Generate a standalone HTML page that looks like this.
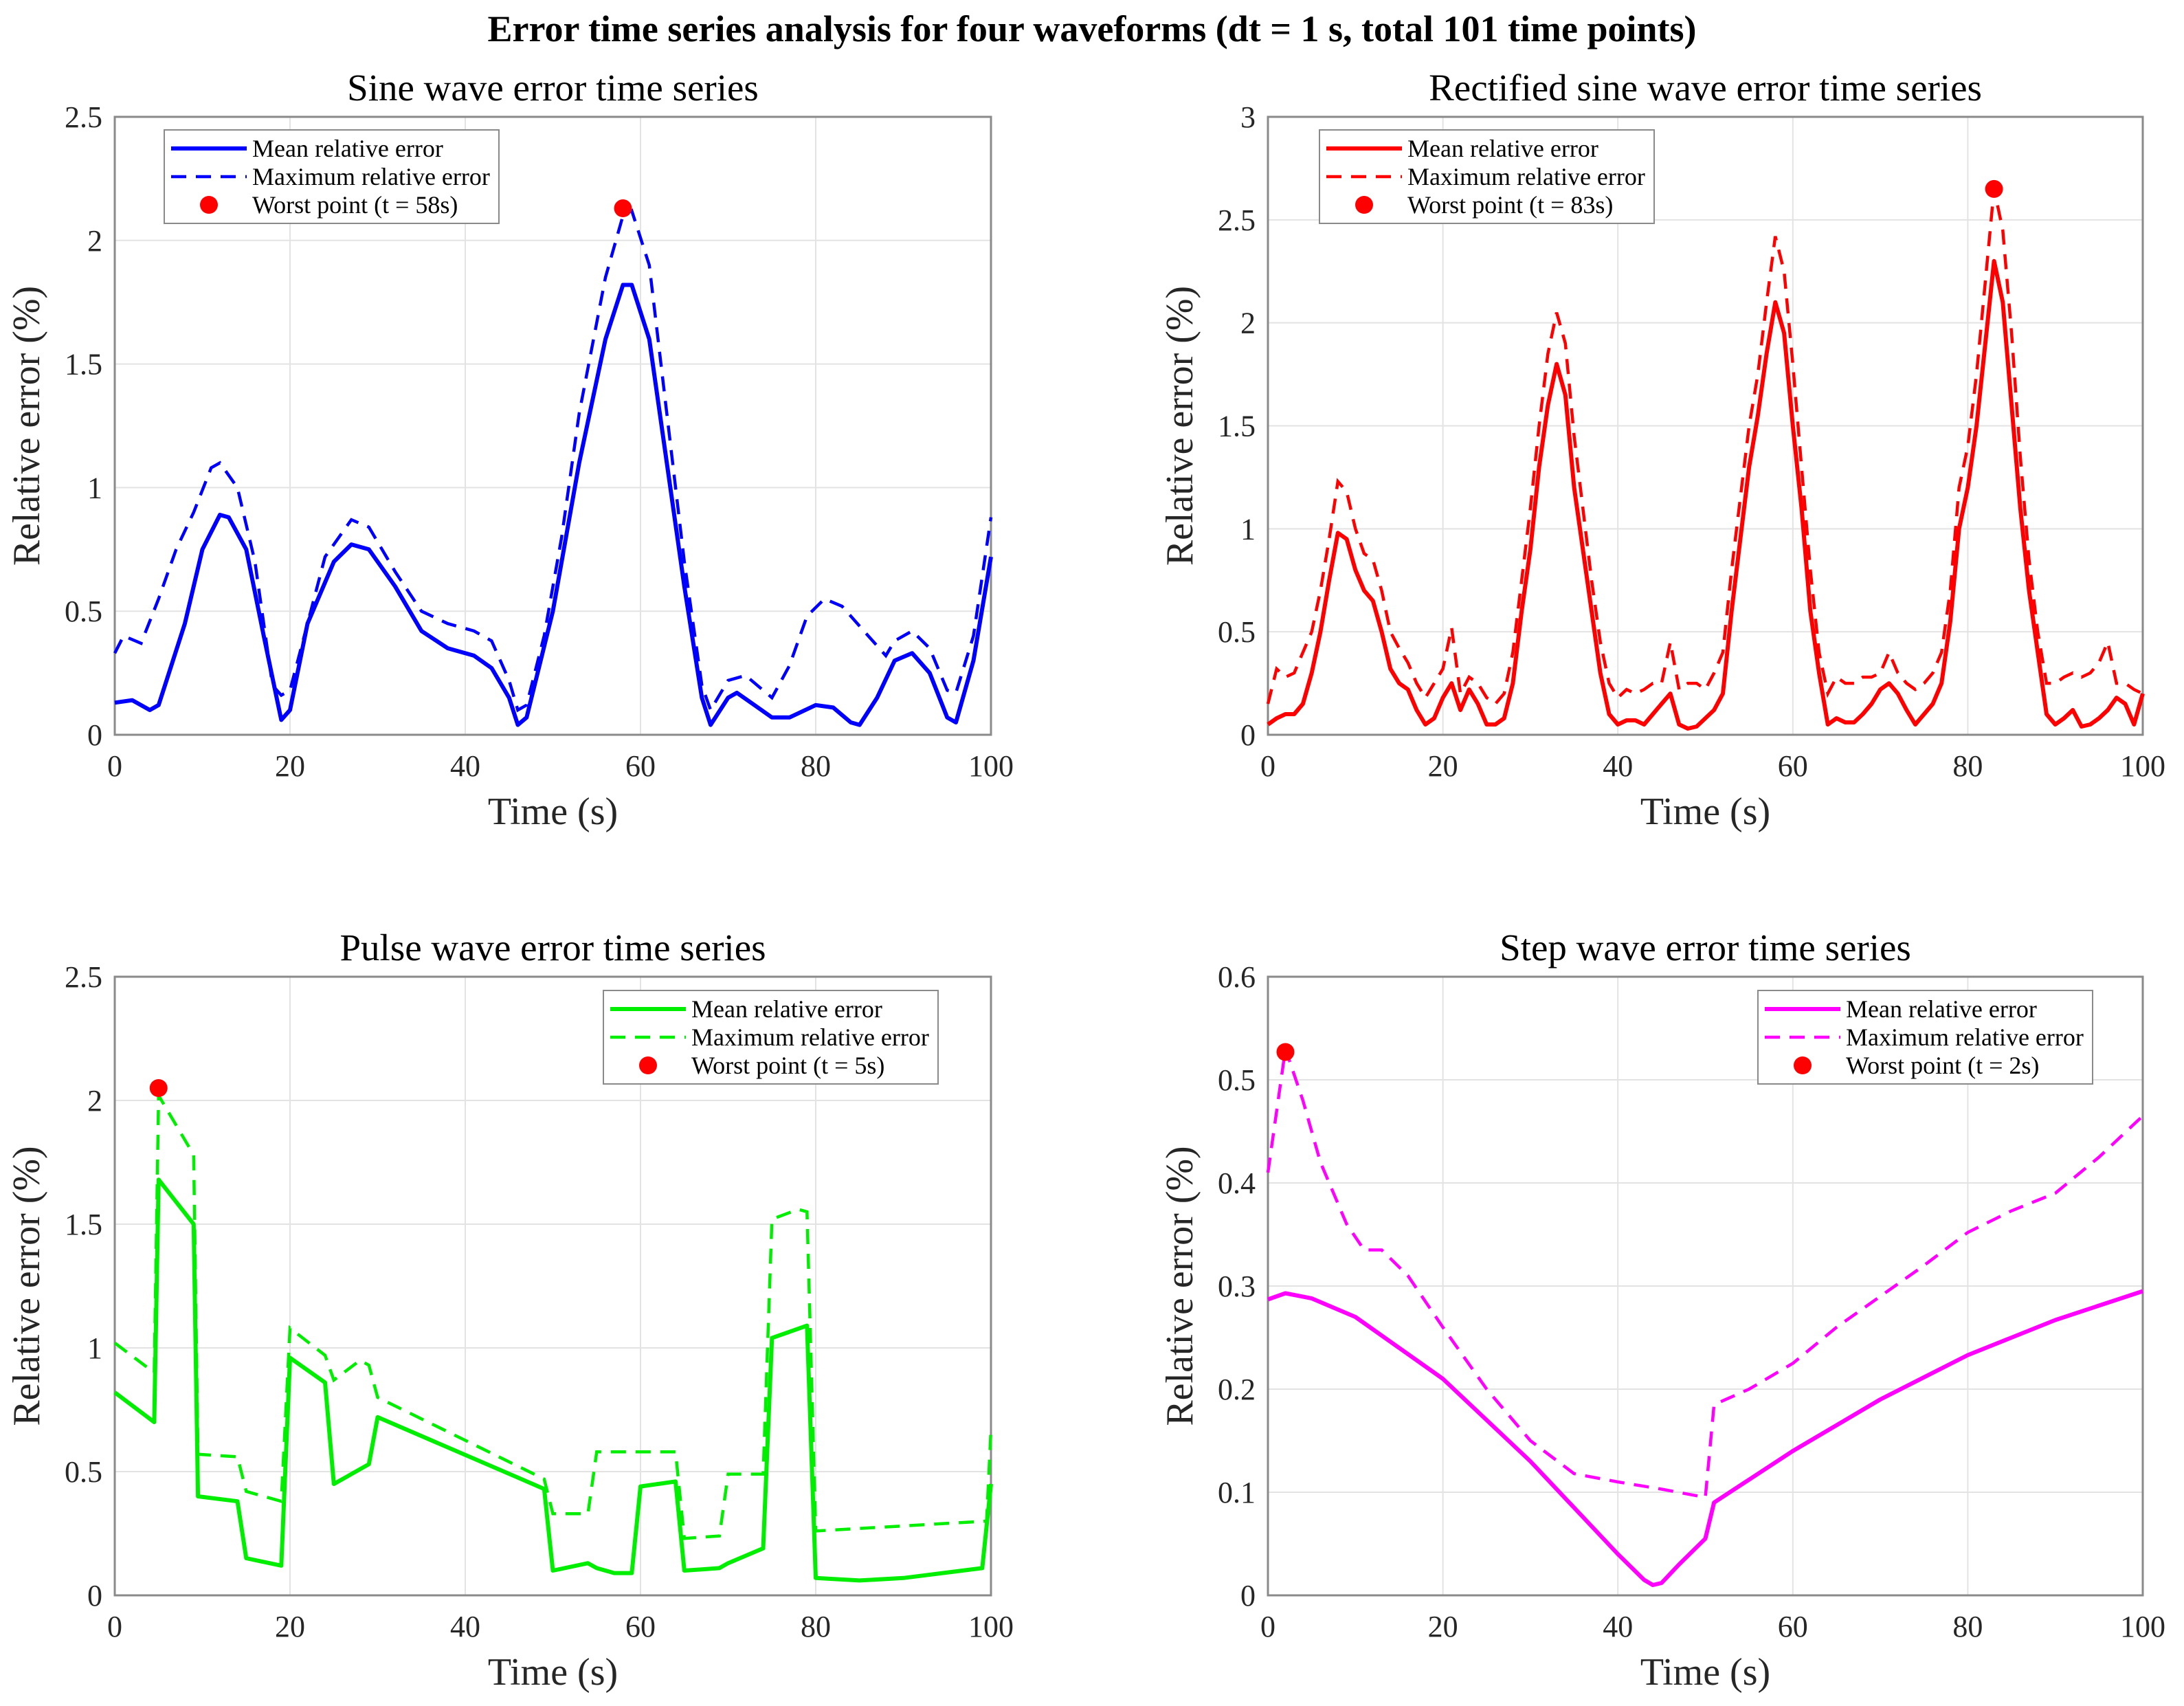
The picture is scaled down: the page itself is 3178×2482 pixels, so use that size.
<!DOCTYPE html>
<html><head><meta charset="utf-8"><style>
body{margin:0;background:#fff;}
svg{display:block;font-family:"Liberation Serif",serif;}
</style></head><body>
<svg id="fig" width="3178" height="2482" viewBox="0 0 3178 2482" xmlns="http://www.w3.org/2000/svg">
<text x="1589" y="60" text-anchor="middle" font-size="54" font-weight="bold" fill="#000">Error time series analysis for four waveforms (dt = 1 s, total 101 time points)</text>
</svg>
<script>
// ---- Sine data ----
const sineMeanT=[0,2,4,5,8,10,12,13,15,17,19,20,22,25,27,29,32,35,38,41,43,45,46,47,50,53,56,58,59,61,63,65,67,68,70,71,73,75,77,80,82,84,85,87,89,91,93,95,96,98,100];
const sineMean=[0.13,0.14,0.10,0.12,0.45,0.75,0.89,0.88,0.75,0.4,0.06,0.1,0.45,0.7,0.77,0.75,0.6,0.42,0.35,0.32,0.27,0.15,0.04,0.07,0.5,1.1,1.6,1.82,1.82,1.6,1.1,0.6,0.15,0.04,0.15,0.17,0.12,0.07,0.07,0.12,0.11,0.05,0.04,0.15,0.3,0.33,0.25,0.07,0.05,0.3,0.72];
const sineMaxT=[0,1,3,5,7,9,11,12,14,16,18,19,20,22,24,27,29,32,35,38,41,43,45,46,47,49,51,53,56,58,59,61,63,65,67,68,70,72,74,75,77,79,81,83,86,88,89,91,93,95,96,98,100];
const sineMax=[0.33,0.4,0.37,0.55,0.75,0.9,1.08,1.1,1.0,0.7,0.2,0.16,0.18,0.45,0.72,0.87,0.84,0.66,0.5,0.45,0.42,0.38,0.22,0.1,0.12,0.4,0.8,1.3,1.85,2.1,2.12,1.9,1.3,0.7,0.2,0.1,0.22,0.24,0.18,0.15,0.28,0.48,0.55,0.52,0.4,0.32,0.38,0.42,0.35,0.18,0.17,0.4,0.88];
const sineWorst=[58,2.13];
// ---- Rectified data (t = 0..100 step 1) ----
const rectMean=[0.05,0.08,0.1,0.1,0.15,0.3,0.5,0.75,0.98,0.95,0.8,0.7,0.65,0.5,0.32,0.25,0.22,0.12,0.05,0.08,0.18,0.25,0.12,0.22,0.15,0.05,0.05,0.08,0.25,0.6,0.9,1.3,1.6,1.8,1.65,1.2,0.9,0.6,0.3,0.1,0.05,0.07,0.07,0.05,0.1,0.15,0.2,0.05,0.03,0.04,0.08,0.12,0.2,0.6,0.95,1.3,1.55,1.85,2.1,1.95,1.5,1.1,0.6,0.3,0.05,0.08,0.06,0.06,0.1,0.15,0.22,0.25,0.2,0.12,0.05,0.1,0.15,0.25,0.55,1.0,1.2,1.5,1.9,2.3,2.1,1.6,1.1,0.7,0.4,0.1,0.05,0.08,0.12,0.04,0.05,0.08,0.12,0.18,0.15,0.05,0.2];
const rectMax=[0.15,0.32,0.28,0.3,0.4,0.5,0.7,0.95,1.23,1.18,1.0,0.88,0.85,0.7,0.5,0.42,0.35,0.25,0.18,0.25,0.32,0.52,0.2,0.28,0.25,0.18,0.15,0.2,0.4,0.75,1.1,1.5,1.85,2.05,1.9,1.45,1.1,0.75,0.45,0.25,0.18,0.22,0.2,0.22,0.25,0.25,0.45,0.22,0.25,0.25,0.22,0.3,0.4,0.8,1.15,1.5,1.75,2.1,2.42,2.25,1.8,1.3,0.8,0.4,0.2,0.28,0.25,0.25,0.28,0.28,0.3,0.4,0.3,0.25,0.22,0.25,0.3,0.4,0.7,1.2,1.4,1.75,2.2,2.65,2.45,1.95,1.35,0.85,0.5,0.25,0.25,0.28,0.3,0.28,0.3,0.35,0.45,0.25,0.25,0.22,0.2];
const rectWorst=[83,2.65];
// ---- Pulse data ----
const pulseMeanT=[0,4.5,5,9,9.5,14,15,19,20,24,25,29,30,49,50,54,55,57,59,60,64,65,69,70,74,75,79,80,85,90,99,100];
const pulseMean=[0.82,0.7,1.68,1.5,0.4,0.38,0.15,0.12,0.96,0.86,0.45,0.53,0.72,0.43,0.1,0.13,0.11,0.09,0.09,0.44,0.46,0.1,0.11,0.13,0.19,1.04,1.09,0.07,0.06,0.07,0.11,0.45];
const pulseMaxT=[0,4.5,5,9,9.5,14,15,19,20,24,25,28,29,30,49,50,54,55,64,65,69,70,74,75,78,79,80,99.5,100];
const pulseMax=[1.02,0.9,2.02,1.78,0.57,0.56,0.42,0.38,1.08,0.97,0.87,0.95,0.93,0.8,0.47,0.33,0.33,0.58,0.58,0.23,0.24,0.49,0.49,1.52,1.56,1.55,0.26,0.3,0.67];
const pulseWorst=[5,2.05];
// ---- Step data ----
const stepMeanT=[0,2,5,10,20,30,40,43,44,45,47,50,51,60,70,80,90,100];
const stepMean=[0.287,0.293,0.288,0.27,0.21,0.13,0.04,0.015,0.01,0.012,0.03,0.055,0.09,0.14,0.19,0.233,0.267,0.295];
const stepMaxT=[0,2,4,6,9,11,13,16,20,25,30,35,40,45,50,51,55,60,65,70,75,80,85,90,95,100];
const stepMax=[0.41,0.53,0.48,0.42,0.36,0.335,0.335,0.31,0.26,0.2,0.15,0.118,0.11,0.103,0.095,0.185,0.2,0.225,0.26,0.29,0.32,0.352,0.373,0.39,0.425,0.465];
const stepWorst=[2,0.527];
const xTicks=[0,20,40,60,80,100];
const yTicks1=[0,0.5,1,1.5,2,2.5];
const yTicks2=[0,0.5,1,1.5,2,2.5,3];
const yTicks4=[0,0.1,0.2,0.3,0.4,0.5,0.6];

const NS="http://www.w3.org/2000/svg";
const svg=document.getElementById('fig');
function mk(tag,attrs,parent){const e=document.createElementNS(NS,tag);for(const k in attrs)e.setAttribute(k,attrs[k]);(parent||svg).appendChild(e);return e;}
const idx=n=>Array.from({length:n},(_,i)=>i);

function panel(key,x0,y0,x1,y1,ymax,yTicks,title,color,mt,mv,xt,xv,worst,leg,legLabel){
  const g=mk('g',{});
  
  
  const sx=t=>x0+(t/100)*(x1-x0), sy=v=>y1-(v/ymax)*(y1-y0);
  const fmt=v=>String(v);
  for(const t of xTicks){
    const l=mk('line',{x1:sx(t),x2:sx(t),y1:y0,y2:y1,stroke:'#e3e3e3','stroke-width':2},g);
    
    
    const tl=mk('text',{x:sx(t),y:y1+60,'text-anchor':'middle','font-size':44,fill:'#262626'},g);
    tl.textContent=fmt(t);
    
    
  }
  for(const v of yTicks){
    const l=mk('line',{x1:x0,x2:x1,y1:sy(v),y2:sy(v),stroke:'#e3e3e3','stroke-width':2},g);
    
    
    const tl=mk('text',{x:x0-18,y:sy(v)+15,'text-anchor':'end','font-size':44,fill:'#262626'},g);
    tl.textContent=fmt(v);
    
    
  }
  const box=mk('rect',{x:x0,y:y0,width:x1-x0,height:y1-y0,fill:'none',stroke:'#8a8a8a','stroke-width':3},g);
  
  
  const ttl=mk('text',{x:(x0+x1)/2,y:y0-24,'text-anchor':'middle','font-size':55,fill:'#000'},g);
  ttl.textContent=title;
  
  
  const xl=mk('text',{x:(x0+x1)/2,y:y1+130,'text-anchor':'middle','font-size':56,fill:'#262626'},g);
  xl.textContent='Time (s)';
  
  
  const cy=(y0+y1)/2;
  const yl=mk('text',{x:x0-110,y:cy,'text-anchor':'middle','font-size':56,fill:'#262626',transform:`rotate(-90 ${x0-110} ${cy})`},g);
  yl.textContent='Relative error (%)';
  
  
  const pts=(T,V)=>V.map((v,i)=>sx(T[i]).toFixed(1)+','+sy(v).toFixed(1)).join(' ');
  const pmean=mk('polyline',{points:pts(mt,mv),fill:'none',stroke:color,'stroke-width':6,'stroke-linejoin':'round'},g);
  
  
  const pmax=mk('polyline',{points:pts(xt,xv),fill:'none',stroke:color,'stroke-width':4.5,'stroke-dasharray':'22 14'},g);
  
  
  const wp=mk('circle',{cx:sx(worst[0]),cy:sy(worst[1]),r:13,fill:'#ff0000'},g);
  
  
  // legend
  const [lx,ly]=leg, lw=487, lh=136;
  const lg=mk('g',{},g);
  
  
  mk('rect',{x:lx,y:ly,width:lw,height:lh,fill:'#fff',stroke:'#8a8a8a','stroke-width':2},lg);
  const rows=['Mean relative error','Maximum relative error',legLabel];
  rows.forEach((r,i)=>{
    const yy=ly+27+i*41;
    if(i===0){const s=mk('line',{x1:lx+10,x2:lx+120,y1:yy,y2:yy,stroke:color,'stroke-width':6},lg);
      }
    if(i===1){const s=mk('line',{x1:lx+10,x2:lx+120,y1:yy,y2:yy,stroke:color,'stroke-width':4.5,'stroke-dasharray':'22 14'},lg);
      }
    if(i===2){const s=mk('circle',{cx:lx+65,cy:yy,r:13,fill:'#ff0000'},lg);
      }
    const t=mk('text',{x:lx+128,y:yy+12,'font-size':36,fill:'#000'},lg);
    t.textContent=r;
    
    
  });
}
const rt=idx(101);
panel('sine',167,170,1442,1069,2.5,yTicks1,'Sine wave error time series','#0000ff',sineMeanT,sineMean,sineMaxT,sineMax,sineWorst,[239,189],'Worst point (t = 58s)');
panel('rectified',1845,170,3118,1069,3,yTicks2,'Rectified sine wave error time series','#ff0000',rt,rectMean,rt,rectMax,rectWorst,[1920,189],'Worst point (t = 83s)');
panel('pulse',167,1421,1442,2321,2.5,yTicks1,'Pulse wave error time series','#00ee00',pulseMeanT,pulseMean,pulseMaxT,pulseMax,pulseWorst,[878,1441],'Worst point (t = 5s)');
panel('step',1845,1421,3118,2321,0.6,yTicks4,'Step wave error time series','#ff00ff',stepMeanT,stepMean,stepMaxT,stepMax,stepWorst,[2558,1441],'Worst point (t = 2s)');
</script>
</body></html>
